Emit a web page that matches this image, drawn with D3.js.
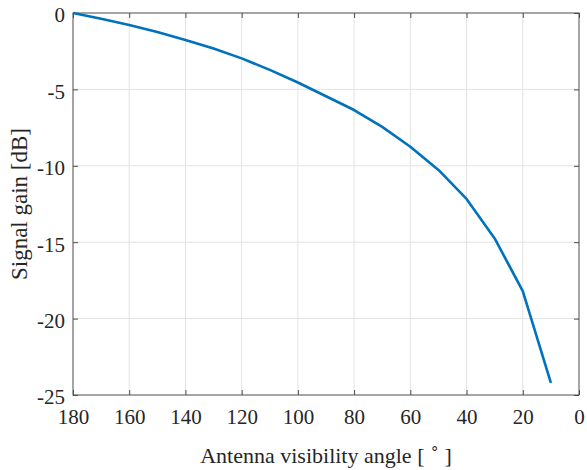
<!DOCTYPE html>
<html>
<head>
<meta charset="utf-8">
<script src="https://cdn.jsdelivr.net/npm/d3@7"></script>
<style>
  body { margin: 0; background: #fff; }
  svg text { font-family: "Liberation Serif", "Times New Roman", serif; fill: #262626; }
</style>
</head>
<body>
<div id="chart"></div>
<script>
// data
var angles = [180, 170, 160, 150, 140, 130, 120, 110, 100, 90, 80, 70, 60, 50, 40, 30, 20, 10]
var gains = [0, -0.38, -0.78, -1.25, -1.76, -2.33, -2.97, -3.72, -4.55, -5.45, -6.35, -7.45, -8.75, -10.27, -12.17, -14.75, -18.2, -24.2]
var xTicks = [180, 160, 140, 120, 100, 80, 60, 40, 20, 0]
var yTicks = [0, -5, -10, -15, -20, -25]

var serif = '"Liberation Serif", "Times New Roman", serif'
var width = 587, height = 470,
    margin = {top: 13, right: 8, bottom: 75, left: 73}
var plotW = width - margin.left - margin.right,
    plotH = height - margin.top - margin.bottom

var svg = d3.select('#chart').append('svg').attr('width', width).attr('height', height)

var x = d3.scaleLinear().domain([180, 0]).range([0, plotW])
var y = d3.scaleLinear().domain([-25, 0]).range([plotH, 0])

var g = svg.append('g').attr('transform', 'translate(' + margin.left + ',' + margin.top + ')')

// grid
g.append('g').selectAll('line').data(xTicks.slice(1, -1)).enter().append('line')
  .attr('x1', d => x(d)).attr('x2', d => x(d)).attr('y1', 0).attr('y2', plotH)
  .attr('stroke', '#e3e3e3').attr('stroke-width', 1)
g.append('g').selectAll('line').data(yTicks.slice(1, -1)).enter().append('line')
  .attr('y1', d => y(d)).attr('y2', d => y(d)).attr('x1', 0).attr('x2', plotW)
  .attr('stroke', '#e3e3e3').attr('stroke-width', 1)

// axes, ticks inward like matlab
var axisColor = '#4d4d4d'
function styleAxis(sel) {
  sel.attr('font-family', serif).attr('font-size', 21)
  sel.select('.domain').remove()
  sel.selectAll('.tick line').attr('stroke', axisColor)
  sel.selectAll('.tick text')
    .style('font-family', serif).style('font-size', '21px').attr('fill', '#262626')
}
g.append('g').attr('transform', 'translate(0,' + plotH + ')')
  .call(d3.axisBottom(x).tickValues(xTicks).tickSize(-5).tickPadding(14).tickFormat(d3.format('d')))
  .call(styleAxis)
  .selectAll('.tick text').attr('dy', '0.71em')
g.append('g')
  .call(d3.axisTop(x).tickValues(xTicks).tickSize(-5).tickFormat(''))
  .call(styleAxis)
g.append('g')
  .call(d3.axisLeft(y).tickValues(yTicks).tickSize(-5).tickPadding(8).tickFormat(d => String(d)))
  .call(styleAxis)
  .selectAll('.tick text').attr('dy', '0.42em')
g.append('g').attr('transform', 'translate(' + plotW + ',0)')
  .call(d3.axisRight(y).tickValues(yTicks).tickSize(-5).tickFormat(''))
  .call(styleAxis)

g.append('rect').attr('width', plotW).attr('height', plotH)
  .attr('fill', 'none').attr('stroke', axisColor).attr('stroke-width', 1)

// curve
var line = d3.line().x((d, i) => x(angles[i])).y(d => y(d))
g.append('path').datum(gains).attr('d', line)
  .attr('fill', 'none').attr('stroke', '#0072BD').attr('stroke-width', 2.6)
  .attr('stroke-linejoin', 'round')

// labels
var xl = svg.append('text').attr('x', margin.left + plotW / 2).attr('y', 463)
  .attr('text-anchor', 'middle').style('font-size', '22px')
xl.append('tspan').text('Antenna visibility angle [ ')
xl.append('tspan').text('\u2218').attr('dy', -10).style('font-size', '15px')
xl.append('tspan').text(' ]').attr('dy', 10)

svg.append('text')
  .attr('transform', 'translate(27,' + (margin.top + plotH / 2) + ') rotate(-90)')
  .attr('text-anchor', 'middle').style('font-size', '23px')
  .text('Signal gain [dB]')
</script>
</body>
</html>
